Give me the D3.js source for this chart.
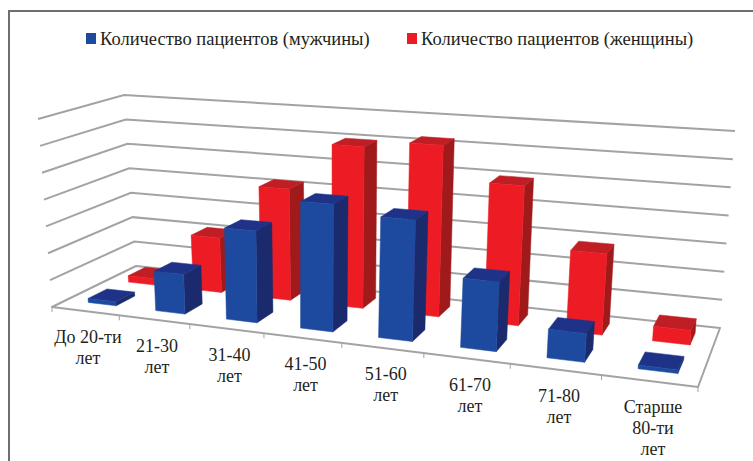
<!DOCTYPE html>
<html>
<head>
<meta charset="utf-8">
<script src="https://cdn.jsdelivr.net/npm/d3@7"></script>
<style>
  html, body { margin: 0; background: #fff; }
  svg { display: block; }
  text { font-family: "Liberation Serif", serif; fill: #231f20; }
</style>
</head>
<body>
<div id="chart"></div>
<script>
const categories = ["До 20-ти\nлет", "21-30\nлет", "31-40\nлет", "41-50\nлет", "51-60\nлет", "61-70\nлет", "71-80\nлет", "Старше\n80-ти\nлет"];
const seriesNames = ["Количество пациентов (мужчины)", "Количество пациентов (женщины)"];
const men = [1.5, 14.5, 33, 45, 42, 23.6, 9.5, 1.2];
const women = [2.5, 21, 42, 60, 62.5, 50, 28.5, 5];
const yTicks = [0, 10, 20, 30, 40, 50, 60, 70];

const width = 753, height = 461;

// corners of the floor and of the top of the box: front-left, front-right, back-right, back-left
const floorCorners = [[52, 307], [698, 387], [720, 328], [136, 266]];
const topCorners = [[38, 119], [715, 165], [735, 131], [124, 95]];

// unit square -> quad
const homography = function([[x0, y0], [x1, y1], [x2, y2], [x3, y3]]) {
  const dx1 = x1 - x2, dx2 = x3 - x2, sx = x0 - x1 + x2 - x3;
  const dy1 = y1 - y2, dy2 = y3 - y2, sy = y0 - y1 + y2 - y3;
  const det = dx1 * dy2 - dx2 * dy1;
  const g = (sx * dy2 - dx2 * sy) / det;
  const h = (dx1 * sy - sx * dy1) / det;
  const a = x1 - x0 + g * x1, b = x3 - x0 + h * x3;
  const d = y1 - y0 + g * y1, e = y3 - y0 + h * y3;
  return (u, v) => {
    const w = g * u + h * v + 1;
    return [(a * u + b * v + x0) / w, (d * u + e * v + y0) / w];
  };
};

const floorH = homography(floorCorners);
const topH = homography(topCorners);

const xBand = d3.scaleBand(categories, [0, 1]).paddingInner(0.58).paddingOuter(0.29).align(0.57);
const zBand = d3.scaleBand(seriesNames, [0, 1]).paddingInner(0.5417).paddingOuter(0.3125).align(0.533);
const y = d3.scaleLinear([0, 70], [0, 1]);

const project = function(u, v, value) {
  const f = floorH(u, v), t = topH(u, v), k = y(value);
  return [f[0] + (t[0] - f[0]) * k, f[1] + (t[1] - f[1]) * k];
};

const line = d3.line();
const colors = [
  {front: "#1d4a9e", side: "#1a2a6c", top: "#1e3388"},
  {front: "#ed1c24", side: "#a01a1c", top: "#be1e24"}
];

const svg = d3.select("#chart").append("svg")
  .attr("width", width)
  .attr("height", height);

// frame
svg.append("path")
  .attr("d", line([[9, height], [9, 11], [width, 11]]))
  .attr("fill", "none")
  .attr("stroke", "#6d6e71")
  .attr("stroke-width", 2);

// walls
svg.append("g")
  .selectAll("path")
  .data(yTicks.slice(1))
  .join("path")
  .attr("d", d => line([project(0, 0, d), project(0, 1, d), project(1, 1, d)]))
  .attr("fill", "none")
  .attr("stroke", "#a3a3a3")
  .attr("stroke-width", 2);

// floor
svg.append("path")
  .attr("d", line([project(0, 0, 0), project(1, 0, 0), project(1, 1, 0), project(0, 1, 0)]) + "Z")
  .attr("fill", "#fff")
  .attr("stroke", "#a3a3a3")
  .attr("stroke-width", 2)
  .attr("stroke-linejoin", "round");

// ticks along the front edge
svg.append("g")
  .selectAll("path")
  .data(d3.range(categories.length + 1))
  .join("path")
  .attr("d", i => {
    const p = project(i / categories.length, 0, 0);
    return line([p, [p[0], p[1] + 5]]);
  })
  .attr("stroke", "#a3a3a3")
  .attr("stroke-width", 1);

// bars, back row first
const bars = (name, values, c) => {
  const v0 = zBand(name), v1 = v0 + zBand.bandwidth();
  const g = svg.append("g");
  categories.forEach((cat, i) => {
    const u0 = xBand(cat), u1 = u0 + xBand.bandwidth(), val = values[i];
    const faces = [
      {fill: c.side, pts: [project(u1, v0, 0), project(u1, v1, 0), project(u1, v1, val), project(u1, v0, val)]},
      {fill: c.top, pts: [project(u0, v0, val), project(u1, v0, val), project(u1, v1, val), project(u0, v1, val)]},
      {fill: c.front, pts: [project(u0, v0, 0), project(u1, v0, 0), project(u1, v0, val), project(u0, v0, val)]}
    ];
    g.append("g")
      .selectAll("path")
      .data(faces)
      .join("path")
      .attr("d", d => line(d.pts) + "Z")
      .attr("fill", d => d.fill)
      .attr("stroke", d => d.fill)
      .attr("stroke-width", 0.5);
  });
};
bars(seriesNames[1], women, colors[1]);
bars(seriesNames[0], men, colors[0]);

// category labels
svg.append("g")
  .selectAll("text")
  .data(categories)
  .join("text")
  .attr("text-anchor", "middle")
  .attr("font-size", 18)
  .each(function(d) {
    const p = project(xBand(d) + xBand.bandwidth() / 2, 0, 0);
    d3.select(this).selectAll("tspan")
      .data(d.split("\n"))
      .join("tspan")
      .attr("x", p[0])
      .attr("y", (_, j) => p[1] + 32 + j * 21)
      .text(t => t);
  });

// legend
const legendX = [86, 407];
const legend = svg.append("g")
  .selectAll("g")
  .data(seriesNames)
  .join("g")
  .attr("transform", (d, i) => `translate(${legendX[i]},33)`);
legend.append("rect")
  .attr("width", 10)
  .attr("height", 11)
  .attr("fill", (d, i) => colors[i].front);
legend.append("text")
  .attr("x", 14)
  .attr("y", 12)
  .attr("font-size", 18.5)
  .text(d => d);
</script>
</body>
</html>
